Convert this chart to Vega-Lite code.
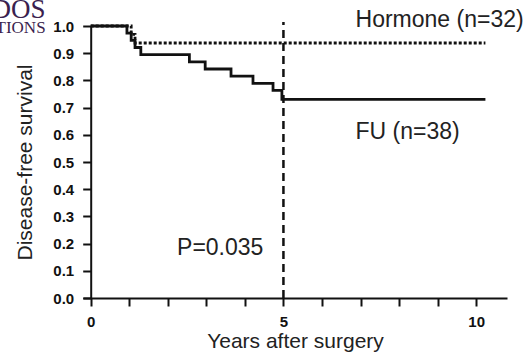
{
  "$schema": "https://vega.github.io/schema/vega-lite/v6.json",
  "width": 424,
  "height": 272,
  "autosize": {"type": "none"},
  "padding": {"left": 83, "top": 26, "right": 23, "bottom": 58},
  "background": "white",
  "config": {
    "view": {"stroke": null},
    "font": "Liberation Sans",
    "axis": {"grid": false, "domainColor": "#111", "tickColor": "#111", "labelColor": "#111", "titleColor": "#222", "labelFont": "Liberation Sans", "titleFont": "Liberation Sans", "titleFontWeight": "normal", "labelFontWeight": "bold", "domainWidth": 2, "tickWidth": 2, "labelOverlap": false, "tickSize": 8, "labelFontSize": 15, "titleFontSize": 21},
    "axisX": {"labelPadding": 8, "titlePadding": 1, "labelFlush": false},
    "axisY": {"labelPadding": 9, "titlePadding": 17, "offset": -7.7}
  },
  "datasets": {
    "km": [
      {"group": "FU", "years": 0, "survival": 1.0},
      {"group": "FU", "years": 0.94, "survival": 0.974},
      {"group": "FU", "years": 1.05, "survival": 0.947},
      {"group": "FU", "years": 1.15, "survival": 0.921},
      {"group": "FU", "years": 1.3, "survival": 0.895},
      {"group": "FU", "years": 2.56, "survival": 0.868},
      {"group": "FU", "years": 2.97, "survival": 0.842},
      {"group": "FU", "years": 3.64, "survival": 0.816},
      {"group": "FU", "years": 4.21, "survival": 0.789},
      {"group": "FU", "years": 4.73, "survival": 0.763},
      {"group": "FU", "years": 4.96, "survival": 0.73},
      {"group": "FU", "years": 10.24, "survival": 0.73},
      {"group": "Hormone", "years": 0, "survival": 1.0},
      {"group": "Hormone", "years": 1.05, "survival": 0.969},
      {"group": "Hormone", "years": 1.15, "survival": 0.9375},
      {"group": "Hormone", "years": 10.24, "survival": 0.9375}
    ]
  },
  "layer": [
    {
      "data": {"name": "km"},
      "mark": {"type": "line", "interpolate": "step-after", "strokeWidth": 2.8, "color": "#111", "clip": false},
      "encoding": {
        "x": {"field": "years", "type": "quantitative", "scale": {"domain": [-0.2, 10.8], "nice": false, "zero": false},
          "axis": {"title": "Years after surgery", "values": [0,1,2,3,4,5,6,7,8,9,10], "labelExpr": "datum.value % 5 === 0 ? datum.label : ''"}},
        "y": {"field": "survival", "type": "quantitative", "scale": {"domain": [0, 1], "nice": false},
          "axis": {"title": "Disease-free survival", "values": [0,0.1,0.2,0.3,0.4,0.5,0.6,0.7,0.8,0.9,1.0], "format": ".1f"}},
        "detail": {"field": "group", "type": "nominal"},
        "strokeDash": {"field": "group", "type": "nominal", "scale": {"domain": ["FU", "Hormone"], "range": [[1, 0], [3, 2]]}, "legend": null}
      }
    },
    {
      "data": {"values": [{}]},
      "mark": {"type": "rule", "strokeWidth": 2.5, "strokeDash": [8, 5], "color": "#111", "clip": false},
      "encoding": {
        "x": {"datum": 5, "type": "quantitative", "axis": {"title": "Years after surgery", "values": [0,1,2,3,4,5,6,7,8,9,10], "labelExpr": "datum.value % 5 === 0 ? datum.label : ''"}},
        "y": {"datum": 0, "type": "quantitative", "axis": {"title": "Disease-free survival", "values": [0,0.1,0.2,0.3,0.4,0.5,0.6,0.7,0.8,0.9,1.0], "format": ".1f"}},
        "y2": {"datum": 1.015}
      }
    },
    {
      "data": {"values": [{"label": "Hormone (n=32)"}]},
      "mark": {"type": "text", "align": "left", "baseline": "middle", "fontSize": 23, "color": "#222", "clip": false},
      "encoding": {
        "x": {"datum": 6.87, "type": "quantitative", "axis": {"title": "Years after surgery", "values": [0,1,2,3,4,5,6,7,8,9,10], "labelExpr": "datum.value % 5 === 0 ? datum.label : ''"}},
        "y": {"datum": 1.022, "type": "quantitative", "axis": {"title": "Disease-free survival", "values": [0,0.1,0.2,0.3,0.4,0.5,0.6,0.7,0.8,0.9,1.0], "format": ".1f"}},
        "text": {"field": "label"}
      }
    },
    {
      "data": {"values": [{"label": "FU (n=38)"}]},
      "mark": {"type": "text", "align": "left", "baseline": "middle", "fontSize": 23, "color": "#222", "clip": false},
      "encoding": {
        "x": {"datum": 6.87, "type": "quantitative", "axis": {"title": "Years after surgery", "values": [0,1,2,3,4,5,6,7,8,9,10], "labelExpr": "datum.value % 5 === 0 ? datum.label : ''"}},
        "y": {"datum": 0.611, "type": "quantitative", "axis": {"title": "Disease-free survival", "values": [0,0.1,0.2,0.3,0.4,0.5,0.6,0.7,0.8,0.9,1.0], "format": ".1f"}},
        "text": {"field": "label"}
      }
    },
    {
      "data": {"values": [{"label": "P=0.035"}]},
      "mark": {"type": "text", "align": "left", "baseline": "middle", "fontSize": 23, "color": "#222", "clip": false},
      "encoding": {
        "x": {"datum": 2.24, "type": "quantitative", "axis": {"title": "Years after surgery", "values": [0,1,2,3,4,5,6,7,8,9,10], "labelExpr": "datum.value % 5 === 0 ? datum.label : ''"}},
        "y": {"datum": 0.184, "type": "quantitative", "axis": {"title": "Disease-free survival", "values": [0,0.1,0.2,0.3,0.4,0.5,0.6,0.7,0.8,0.9,1.0], "format": ".1f"}},
        "text": {"field": "label"}
      }
    },
    {
      "data": {"values": [{"label": "DOS"}]},
      "mark": {"type": "text", "align": "right", "baseline": "middle", "fontSize": 27, "font": "Liberation Serif", "color": "#3b1f4f", "clip": false},
      "encoding": {
        "x": {"datum": -1.17, "type": "quantitative", "axis": {"title": "Years after surgery", "values": [0,1,2,3,4,5,6,7,8,9,10], "labelExpr": "datum.value % 5 === 0 ? datum.label : ''"}},
        "y": {"datum": 1.058, "type": "quantitative", "axis": {"title": "Disease-free survival", "values": [0,0.1,0.2,0.3,0.4,0.5,0.6,0.7,0.8,0.9,1.0], "format": ".1f"}},
        "text": {"field": "label"}
      }
    },
    {
      "data": {"values": [{"label": "TIONS"}]},
      "mark": {"type": "text", "align": "right", "baseline": "middle", "fontSize": 17, "font": "Liberation Serif", "color": "#3b1f4f", "clip": false},
      "encoding": {
        "x": {"datum": -1.17, "type": "quantitative", "axis": {"title": "Years after surgery", "values": [0,1,2,3,4,5,6,7,8,9,10], "labelExpr": "datum.value % 5 === 0 ? datum.label : ''"}},
        "y": {"datum": 0.993, "type": "quantitative", "axis": {"title": "Disease-free survival", "values": [0,0.1,0.2,0.3,0.4,0.5,0.6,0.7,0.8,0.9,1.0], "format": ".1f"}},
        "text": {"field": "label"}
      }
    }
  ]
}
